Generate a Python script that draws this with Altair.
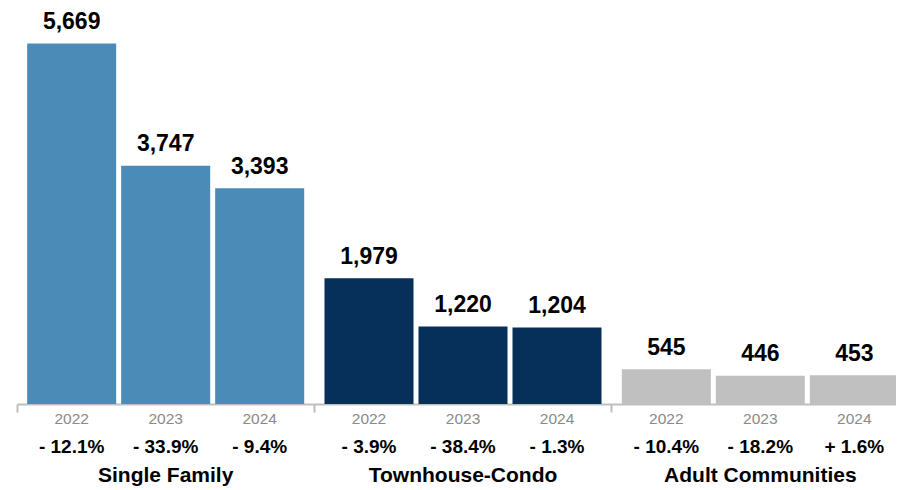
import altair as alt
import pandas as pd

groups = ["Single Family", "Townhouse-Condo", "Adult Communities"]
years = ["2022", "2023", "2024"]
values = [5669, 3747, 3393, 1979, 1220, 1204, 545, 446, 453]
changes = ["- 12.1%", "- 33.9%", "- 9.4%",
           "- 3.9%", "- 38.4%", "- 1.3%",
           "- 10.4%", "- 18.2%", "+ 1.6%"]
colors = ["#4a8cb7", "#06305a", "#c0c0c0"]

rows = []
i = 0
for g in groups:
    for y in years:
        rows.append({"group": g, "year": y, "value": values[i],
                     "label": f"{values[i]:,}", "change": changes[i]})
        i += 1
df = pd.DataFrame(rows)
gdf = pd.DataFrame({"group": groups})

FONT = "Liberation Sans"

x_scale = alt.Scale(paddingInner=0, paddingOuter=0, round=False)
x_enc = alt.X("group:N", sort=groups, scale=x_scale,
              axis=alt.Axis(title=None, labels=False, bandPosition=0,
                            domainColor="#bfbfbf", domainWidth=2,
                            tickColor="#bfbfbf", tickWidth=2, tickSize=8,
                            grid=False))
xo_enc = alt.XOffset("year:N", sort=years,
                     scale=alt.Scale(paddingInner=0.053, paddingOuter=0.108,
                                     round=False))
y_scale = alt.Scale(domain=[0, 6150], nice=False, zero=True)

base = alt.Chart(df).encode(x=x_enc, xOffset=xo_enc)

bars = base.mark_bar().encode(
    y=alt.Y("value:Q", scale=y_scale, axis=None),
    color=alt.Color("group:N", sort=groups,
                    scale=alt.Scale(domain=groups, range=colors), legend=None),
)

vals = base.mark_text(font=FONT, fontWeight="bold", fontSize=23,
                      baseline="alphabetic", dy=-14.5, color="#000000").encode(
    y=alt.Y("value:Q", scale=y_scale, axis=None),
    text="label:N",
)

yr = base.mark_text(font=FONT, fontSize=15.5, color="#8a8a8a",
                    baseline="alphabetic").encode(
    y=alt.value(411),
    text="year:N",
)

chg = base.mark_text(font=FONT, fontWeight="bold", fontSize=19,
                     baseline="alphabetic", color="#000000").encode(
    y=alt.value(440),
    text="change:N",
)

ttl = alt.Chart(gdf).mark_text(font=FONT, fontWeight="bold", fontSize=21,
                               baseline="alphabetic", color="#000000").encode(
    x=alt.X("group:N", sort=groups, scale=x_scale),
    y=alt.value(469),
    text="group:N",
)

chart = alt.layer(bars, vals, yr, chg, ttl).properties(
    width=892, height=391,
    autosize=alt.AutoSizeParams(type="none"),
    padding={"left": 9, "top": 5, "right": -13, "bottom": 86},
).configure_view(stroke=None)

chart.save("out.html", embed_options={"renderer": "svg", "actions": False})
